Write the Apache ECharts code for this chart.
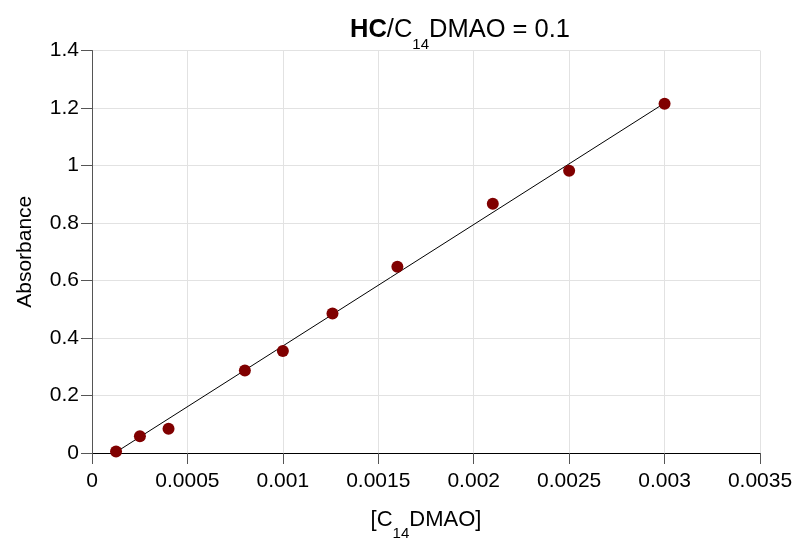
<!DOCTYPE html>
<html lang="en-US">
  <head>
    <meta charset="utf-8">
    <title>HC/C14DMAO = 0.1</title>
    <script type="text/javascript" src="https://cdn.jsdelivr.net/npm/echarts@6/dist/echarts.min.js"></script>
    <style>
      html, body { margin: 0; padding: 0; background: #fff; }
      #chart { width: 795px; height: 538px; }
    </style>
  </head>
  <body>
    <div id="chart"></div>
    <script type="text/javascript">
      var concX   = [0.000126, 0.000251, 0.000401, 0.000801, 0.001, 0.00126, 0.0016, 0.0021, 0.0025, 0.003];
      var absorb  = [0.005, 0.058, 0.084, 0.287, 0.355, 0.485, 0.648, 0.867, 0.982, 1.215];
      // ends of the fitted straight line
      var fitX    = [0.000126, 0.003];
      var fitY    = [0.003, 1.217];
      var xTicks  = [0, 0.0005, 0.001, 0.0015, 0.002, 0.0025, 0.003, 0.0035];
      var yTicks  = [0, 0.2, 0.4, 0.6, 0.8, 1, 1.2, 1.4];

      var font = 'Liberation Sans, Arial, sans-serif';
      var pts = concX.map(function (x, i) { return [x, absorb[i]]; });
      var fit = fitX.map(function (x, i) { return [x, fitY[i]]; });

      var chart = echarts.init(document.getElementById('chart'));
      chart.setOption({
        animation: false,
        title: {
          text: '{b|HC}{n|/C}{s|14}{n|DMAO = 0.1}',
          left: 350,
          top: 17,
          padding: 0,
          textStyle: {
            fontFamily: font,
            fontWeight: 'normal',
            rich: {
              b: { fontFamily: font, fontSize: 25.5, fontWeight: 'bold', color: '#000', lineHeight: 30, verticalAlign: 'top' },
              n: { fontFamily: font, fontSize: 25.5, fontWeight: 'normal', color: '#000', lineHeight: 30, verticalAlign: 'top' },
              s: { fontFamily: font, fontSize: 15, fontWeight: 'normal', color: '#000', lineHeight: 15, padding: [20, 0, 0, 0], verticalAlign: 'top' }
            }
          }
        },
        grid: { left: 92, right: 35, top: 50.5, bottom: 85, containLabel: false, outerBoundsMode: 'none' },
        xAxis: {
          type: 'value',
          min: xTicks[0],
          max: xTicks[xTicks.length - 1],
          interval: xTicks[1] - xTicks[0],
          name: '{n|[C}{s|14}{n|DMAO]}',
          nameLocation: 'middle',
          nameGap: 56,
          nameTextStyle: {
            rich: {
              n: { fontFamily: font, fontSize: 22, color: '#000', lineHeight: 26, verticalAlign: 'top' },
              s: { fontFamily: font, fontSize: 15, color: '#000', lineHeight: 15, padding: [17, 0, 0, 0], verticalAlign: 'top' }
            }
          },
          axisLine: { show: true, lineStyle: { color: '#000', width: 1 } },
          axisTick: { show: true, inside: false, length: 11, lineStyle: { color: '#555' } },
          axisLabel: { fontFamily: font, fontSize: 21, color: '#000', margin: 18 },
          splitLine: { show: true, lineStyle: { color: '#e2e2e2', width: 1 } }
        },
        yAxis: {
          type: 'value',
          min: yTicks[0],
          max: yTicks[yTicks.length - 1],
          interval: 0.2,
          name: 'Absorbance',
          nameLocation: 'middle',
          nameRotate: 90,
          nameGap: 56,
          nameTextStyle: { fontFamily: font, fontSize: 21, color: '#000' },
          axisLine: { show: true, lineStyle: { color: '#555', width: 1 } },
          axisTick: { show: true, inside: false, length: 11, lineStyle: { color: '#555' } },
          axisLabel: { fontFamily: font, fontSize: 21, color: '#000', margin: 13 },
          splitLine: { show: true, lineStyle: { color: '#e2e2e2', width: 1 } }
        },
        series: [
          {
            name: 'fit',
            type: 'line',
            data: fit,
            symbol: 'none',
            silent: true,
            z: 2,
            lineStyle: { color: '#000', width: 1 }
          },
          {
            name: 'Absorbance',
            type: 'scatter',
            data: pts,
            symbol: 'circle',
            symbolSize: 12,
            z: 3,
            itemStyle: { color: '#800000', opacity: 1 }
          }
        ]
      });
    </script>
  </body>
</html>
